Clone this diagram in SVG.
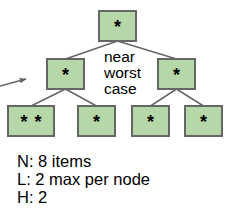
<svg xmlns="http://www.w3.org/2000/svg" width="229" height="215" viewBox="0 0 229 215">
<style>
.node rect{fill:#b6d7a8;stroke:#666666;stroke-width:2}
.node text{font-family:"Liberation Sans",Arial,sans-serif;font-size:18px;font-weight:bold;fill:#000;text-anchor:middle}
.edge{stroke:#666666;stroke-width:1.5;fill:none}
.lbl{font-family:"Liberation Sans",Arial,sans-serif;font-size:15.5px;fill:#000}
.leg{font-family:"Liberation Sans",Arial,sans-serif;font-size:16.5px;fill:#000}
</style>
<defs>
<marker id="ah" viewBox="0 0 10 10" refX="9" refY="5" markerWidth="7" markerHeight="7" orient="auto" markerUnits="userSpaceOnUse">
<path d="M0,1 L10,5 L0,9 Z" fill="#666666"/>
</marker>
</defs>
<g id="connectors">
<line class="edge" x1="117.5" y1="41" x2="65.5" y2="59"/>
<line class="edge" x1="117.5" y1="41" x2="176.5" y2="59"/>
<line class="edge" x1="65.5" y1="89" x2="31" y2="106"/>
<line class="edge" x1="65.5" y1="89" x2="96.5" y2="106"/>
<line class="edge" x1="176.5" y1="89" x2="150.5" y2="106"/>
<line class="edge" x1="176.5" y1="89" x2="203.5" y2="106"/>
<line class="edge" x1="0" y1="86" x2="26" y2="79" stroke-width="1" marker-end="url(#ah)"/>
</g>
<g id="n-root" class="node"><rect x="99" y="11" width="37" height="30"/><text x="117.5" y="33">*</text></g>
<g id="n-l" class="node"><rect x="47" y="59" width="37" height="30"/><text x="65.5" y="81">*</text></g>
<g id="n-r" class="node"><rect x="158" y="59" width="37" height="30"/><text x="176.5" y="81">*</text></g>
<g id="n-ll" class="node"><rect x="8" y="106" width="46" height="30"/><text x="31" y="128" word-spacing="2">* *</text></g>
<g id="n-lr" class="node"><rect x="78" y="106" width="37" height="30"/><text x="96.5" y="128">*</text></g>
<g id="n-rl" class="node"><rect x="132" y="106" width="37" height="30"/><text x="150.5" y="128">*</text></g>
<g id="n-rr" class="node"><rect x="185" y="106" width="37" height="30"/><text x="203.5" y="128">*</text></g>
<g id="label-case">
<text class="lbl" x="104" y="62">near</text>
<text class="lbl" x="104" y="78">worst</text>
<text class="lbl" x="104" y="94">case</text>
</g>
<g id="legend">
<text class="leg" x="17" y="167">N: 8 items</text>
<text class="leg" x="17" y="185">L: 2 max per node</text>
<text class="leg" x="17" y="203">H: 2</text>
</g>
</svg>
